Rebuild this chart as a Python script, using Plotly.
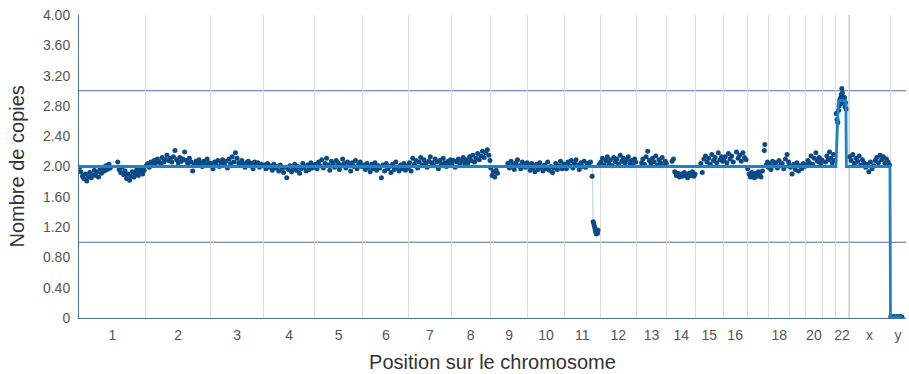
import plotly.graph_objects as go

# ---------------- chromosome layout (Mb) ----------------
chrom_names = ["1", "2", "3", "4", "5", "6", "7", "8", "9", "10", "11", "12",
               "13", "14", "15", "16", "17", "18", "19", "20", "21", "22", "x", "y"]
chrom_len_mb = [249, 243, 198, 191, 181, 171, 159, 146, 141, 136, 135, 134,
                115, 107, 103, 90, 81, 78, 59, 63, 48, 51, 155, 59]
tick_text = ["1", "2", "3", "4", "5", "6", "7", "8", "9", "10", "11", "12",
             "13", "14", "15", "16", "", "18", "", "20", "", "22", "x", "y"]

y_tick_vals = [0, 0.4, 0.8, 1.2, 1.6, 2.0, 2.4, 2.8, 3.2, 3.6, 4.0]
y_tick_text = ["0", "0.40", "0.80", "1.20", "1.60", "2.00", "2.40", "2.80", "3.20", "3.60", "4.00"]
ref_levels = [1, 3]

# ---------------- probe points: offset in chromosome (Mb) and copy number ----------------
c1_pos = [2, 7, 13, 18, 24, 29, 35, 40, 46, 51, 57, 62, 68, 73, 79, 84, 90, 95, 101, 106,
          112, 117, 145, 150, 156, 161, 167, 172, 178, 183, 189, 194, 200, 205, 211, 216, 222, 227, 233, 238, 244]
c1_val = [1.99, 1.93, 1.87, 1.84, 1.90, 1.81, 1.86, 1.92, 1.85, 1.89, 1.95, 1.88, 1.93, 1.86, 1.97, 1.91, 1.99, 1.94, 2.01, 1.96,
          2.03, 1.98, 2.06, 1.96, 1.92, 1.99, 1.89, 1.94, 1.84, 1.90, 1.82, 1.87, 1.93, 1.86, 1.91, 1.96, 1.88, 1.93, 1.97, 1.90, 1.95]
c2_pos = [2, 8, 14, 20, 26, 32, 38, 44, 50, 56, 62, 68, 74, 80, 86, 92, 98, 104, 110, 116,
          122, 128, 134, 140, 146, 152, 158, 164, 170, 176, 182, 188, 194, 200, 206, 212, 218, 224, 230, 236, 241]
c2_val = [2.01, 2.04, 1.99, 2.06, 2.03, 2.08, 2.05, 2.10, 2.07, 2.04, 2.12, 2.06, 2.09, 2.15, 2.08, 2.11, 2.06, 2.13, 2.21, 2.09,
          2.05, 2.12, 2.07, 2.10, 2.19, 2.08, 2.04, 2.11, 2.06, 1.94, 2.02, 2.07, 2.03, 2.09, 2.05, 2.00, 2.07, 2.03, 2.10, 2.05, 2.02]
c3_pos = [3, 9, 15, 21, 27, 33, 39, 45, 51, 57, 63, 69, 75, 81, 87, 93, 99, 105, 111, 117,
          123, 129, 135, 141, 147, 153, 159, 165, 171, 177, 183, 189, 195]
c3_val = [2.04, 1.97, 2.06, 2.02, 2.08, 2.00, 2.05, 2.09, 2.03, 2.07, 1.98, 2.10, 2.04, 2.13, 2.06, 2.18, 2.11, 2.05, 2.02, 2.08,
          2.03, 1.99, 2.05, 2.07, 2.01, 2.04, 1.97, 2.06, 2.02, 2.05, 1.99, 2.03, 2.01]
c4_pos = [3, 9, 15, 21, 27, 33, 39, 45, 51, 57, 63, 69, 75, 81, 87, 93, 99, 105, 111, 117,
          123, 129, 135, 141, 147, 153, 159, 165, 171, 177, 183, 189]
c4_val = [2.02, 1.97, 2.04, 1.99, 2.01, 1.95, 2.03, 1.98, 2.00, 1.94, 2.02, 1.97, 1.92, 1.99, 1.85, 1.96, 2.01, 1.93, 1.98, 2.03,
          1.95, 2.00, 1.91, 1.97, 2.04, 1.99, 1.94, 2.02, 1.96, 2.05, 1.98, 2.01]
c5_pos = [3, 9, 15, 21, 27, 33, 39, 45, 51, 57, 63, 69, 75, 81, 87, 93, 99, 105, 111, 117,
          123, 129, 135, 141, 147, 153, 159, 165, 171, 177]
c5_val = [2.03, 1.97, 2.06, 2.01, 2.09, 1.98, 2.04, 2.11, 2.02, 1.95, 2.07, 2.03, 1.99, 2.08, 2.05, 1.96, 2.02, 2.10, 2.04, 1.98,
          2.06, 2.01, 1.94, 2.05, 2.00, 2.08, 1.97, 2.03, 2.06, 2.00]
c6_pos = [3, 9, 15, 21, 27, 33, 39, 45, 51, 57, 63, 69, 75, 81, 87, 93, 99, 105, 111, 117,
          123, 129, 135, 141, 147, 153, 159, 165, 169]
c6_val = [2.02, 1.96, 2.04, 1.99, 1.93, 2.03, 1.97, 2.05, 1.95, 2.01, 1.98, 1.85, 2.02, 1.94, 2.04, 1.97, 2.00, 1.92, 2.03, 1.96,
          2.06, 1.99, 1.94, 2.02, 1.97, 2.04, 1.95, 2.01, 1.98]
c7_pos = [3, 9, 15, 21, 27, 33, 39, 45, 51, 57, 63, 69, 75, 81, 87, 93, 99, 105, 111, 117,
          123, 129, 135, 141, 147, 153, 157]
c7_val = [2.05, 1.94, 2.11, 2.03, 2.08, 1.98, 2.06, 2.12, 2.02, 2.09, 2.04, 1.99, 2.07, 2.13, 2.05, 2.01, 2.10, 2.06, 1.97, 2.08,
          2.03, 2.11, 2.05, 2.00, 2.07, 2.04, 2.09]
c8_pos = [3, 9, 15, 21, 27, 33, 39, 45, 51, 57, 63, 69, 75, 81, 87, 93, 99, 105, 111, 117,
          123, 129, 135, 141, 145]
c8_val = [2.03, 2.08, 1.99, 2.06, 2.10, 2.02, 2.07, 2.12, 2.04, 2.09, 2.05, 2.13, 2.08, 2.15, 2.06, 2.11, 2.17, 2.09, 2.14, 2.20,
          2.12, 2.18, 2.22, 2.15, 2.08]
c9_pos = [2, 7, 12, 17, 22, 27, 66, 72, 78, 84, 90, 96, 102, 108, 114, 120, 126, 132, 138]
c9_val = [1.98, 1.88, 1.93, 1.86, 1.95, 1.91, 2.04, 1.98, 2.07, 2.02, 1.96, 2.05, 2.09, 2.01, 1.97, 2.06, 2.03, 1.99, 2.05]
c10_pos = [2, 8, 14, 20, 26, 32, 38, 44, 50, 56, 62, 68, 74, 80, 86, 92, 98, 104, 110, 116, 122, 128, 134]
c10_val = [2.01, 1.95, 2.04, 1.98, 1.93, 2.03, 1.96, 2.05, 1.99, 1.94, 2.02, 1.97, 2.06, 1.95, 2.00, 1.92, 1.98, 2.04, 1.96, 2.01,
           2.07, 1.97, 2.03]
c11_pos = [2, 8, 14, 20, 26, 32, 38, 44, 50, 56, 62, 68, 74, 80, 86, 92, 98, 104, 108, 110,
           112, 114, 116, 118, 120, 122, 124, 126, 131]
c11_val = [2.03, 1.97, 2.06, 2.01, 2.08, 1.98, 2.04, 2.09, 2.02, 1.96, 2.05, 2.00, 2.07, 1.99, 2.04, 2.02, 2.06, 1.87, 1.27, 1.25,
           1.22, 1.19, 1.16, 1.13, 1.11, 1.14, 1.12, 1.16, 2.03]
c12_pos = [2, 8, 14, 20, 26, 32, 38, 44, 50, 56, 62, 68, 74, 80, 86, 92, 98, 104, 110, 116, 122, 128, 132]
c12_val = [2.06, 2.11, 2.02, 2.08, 2.13, 2.04, 2.09, 2.01, 2.12, 2.06, 2.10, 2.03, 2.15, 2.07, 2.11, 2.05, 2.09, 2.13, 2.04, 2.08,
           2.02, 2.10, 2.06]
c13_pos = [20, 25, 31, 37, 43, 49, 55, 61, 67, 73, 79, 85, 91, 97, 103, 109, 113]
c13_val = [2.05, 2.10, 2.03, 2.13, 2.20, 2.08, 2.04, 2.11, 2.06, 2.14, 2.02, 2.09, 2.05, 2.12, 2.01, 2.07, 2.04]
c14_pos = [19, 24, 29, 35, 41, 47, 53, 59, 65, 71, 77, 83, 89, 95, 101, 105]
c14_val = [2.07, 2.10, 1.93, 1.88, 1.91, 1.86, 1.90, 1.87, 1.92, 1.89, 1.85, 1.91, 1.88, 1.93, 1.87, 1.90]
c15_pos = [20, 25, 31, 37, 43, 49, 55, 61, 67, 73, 79, 85, 91, 97, 101]
c15_val = [2.04, 1.92, 2.10, 2.14, 2.06, 2.11, 2.03, 2.16, 2.08, 2.12, 2.05, 2.18, 2.09, 2.13, 2.07]
c16_pos = [2, 8, 14, 20, 26, 32, 38, 50, 56, 62, 68, 74, 80, 86]
c16_val = [2.08, 2.13, 2.05, 2.17, 2.10, 2.14, 2.06, 2.19, 2.11, 2.15, 2.07, 2.18, 2.12, 2.09]
c17_pos = [2, 7, 12, 17, 22, 27, 32, 37, 42, 47, 52, 57, 64, 66, 71, 76, 79]
c17_val = [1.97, 1.90, 1.86, 1.92, 1.88, 1.85, 1.91, 1.87, 1.93, 1.89, 1.86, 1.94, 2.21, 2.29, 2.02, 2.06, 1.99]
c18_pos = [2, 8, 14, 20, 26, 32, 38, 44, 50, 56, 62, 68, 74, 77]
c18_val = [2.03, 1.96, 2.07, 2.01, 2.05, 1.98, 2.08, 2.02, 2.04, 1.97, 2.10, 2.16, 2.06, 2.01]
c19_pos = [3, 9, 15, 21, 27, 33, 39, 45, 51, 56]
c19_val = [1.99, 1.90, 2.03, 1.96, 2.05, 1.94, 2.01, 1.97, 2.04, 2.00]
c20_pos = [3, 9, 15, 21, 27, 33, 39, 45, 51, 57, 61]
c20_val = [2.02, 2.08, 2.05, 2.14, 2.03, 2.11, 2.18, 2.07, 2.12, 2.04, 2.09]
c21_pos = [12, 17, 22, 27, 32, 37, 42, 46]
c21_val = [2.06, 2.14, 2.09, 2.19, 2.11, 2.05, 2.16, 2.08]
c22_pos = [4, 7, 10, 13, 15, 17, 19, 21, 23, 25, 27, 29, 31, 33, 35, 37, 39, 41]
c22_val = [2.70, 2.62, 2.58, 2.74, 2.80, 2.86, 2.90, 2.83, 2.95, 3.03, 2.97, 2.92, 2.88, 2.85, 2.91, 2.79, 2.84, 2.76]
cX_pos = [3, 9, 15, 21, 27, 33, 39, 45, 51, 57, 63, 69, 75, 81, 87, 93, 99, 105, 111, 117,
          123, 129, 135, 141, 147, 152]
cX_val = [2.13, 2.08, 2.16, 2.04, 2.11, 2.07, 2.14, 2.02, 2.09, 2.05, 1.99, 2.03, 1.93, 2.06, 1.97, 2.01, 2.08, 2.12, 2.05, 2.15,
          2.09, 2.13, 2.04, 2.10, 2.06, 2.02]
cY_pos = [2, 8, 14, 20, 26, 32, 38, 44]
cY_val = [0.02, 0.01, 0.02, 0.01, 0.02, 0.01, 0.02, 0.01]

# ---------------- segmentation line: (chromosome index, offset Mb, level) ----------------
seg_chrom = [0, 21, 21, 21, 21, 22, 23, 23]
seg_offset = [0, 3, 12, 40, 42, 154, 1, 45]
seg_level = [2.0, 2.0, 2.87, 2.87, 2.0, 2.0, 0.01, 0.01]

# faint connector down to the chromosome 11 loss
link_chrom = [10, 10]
link_offset = [106, 107.5]
link_level = [1.98, 1.26]

# ---------------- build ----------------
starts = []
acc = 0
for L in chrom_len_mb:
    starts.append(acc)
    acc += L
total_mb = acc
centers = [s + L / 2 for s, L in zip(starts, chrom_len_mb)]
boundaries = starts[1:]

all_pos = [c1_pos, c2_pos, c3_pos, c4_pos, c5_pos, c6_pos, c7_pos, c8_pos, c9_pos, c10_pos, c11_pos, c12_pos,
           c13_pos, c14_pos, c15_pos, c16_pos, c17_pos, c18_pos, c19_pos, c20_pos, c21_pos, c22_pos, cX_pos, cY_pos]
all_val = [c1_val, c2_val, c3_val, c4_val, c5_val, c6_val, c7_val, c8_val, c9_val, c10_val, c11_val, c12_val,
           c13_val, c14_val, c15_val, c16_val, c17_val, c18_val, c19_val, c20_val, c21_val, c22_val, cX_val, cY_val]
dot_x, dot_y = [], []
for i, (p, v) in enumerate(zip(all_pos, all_val)):
    for a, b in zip(p, v):
        dot_x.append(starts[i] + a)
        dot_y.append(b)

seg_x = [starts[c] + o for c, o in zip(seg_chrom, seg_offset)]
link_x = [starts[c] + o for c, o in zip(link_chrom, link_offset)]

AXIS = "#4f6fa3"
GRID = "#dcdcdc"
DOT = "#0b4a85"
LINE = "#1f82c4"
FONT = "Liberation Sans, Arial, sans-serif"

fig = go.Figure()
fig.add_trace(go.Scatter(x=link_x, y=link_level, mode="lines",
                         line=dict(color="#b9c9dc", width=1), hoverinfo="skip"))
fig.add_trace(go.Scatter(x=dot_x, y=dot_y, mode="markers",
                         marker=dict(color=DOT, size=5, line=dict(width=0)), hoverinfo="skip"))
fig.add_trace(go.Scatter(x=seg_x, y=seg_level, mode="lines",
                         line=dict(color=LINE, width=2.8), hoverinfo="skip"))

for lv in ref_levels:
    fig.add_hline(y=lv, line_color=AXIS, line_width=1, layer="below")
fig.add_vline(x=starts[22], line_color=AXIS, line_width=1, layer="below")

# y-axis title as a rotated annotation (axis-title standoff is ignored without automargin)
fig.add_annotation(text="Nombre de copies", xref="paper", yref="paper",
                   x=-0.075, y=0.5, xanchor="center", yanchor="middle",
                   textangle=-90, showarrow=False,
                   font=dict(size=20, color="#333333", family=FONT))

fig.update_layout(
    width=909, height=374,
    margin=dict(l=79, r=3, t=15, b=56),
    plot_bgcolor="white", paper_bgcolor="white",
    showlegend=False,
    font=dict(family=FONT, color="#555555"),
    xaxis=dict(
        range=[0, total_mb], showline=True, linecolor=AXIS, linewidth=1,
        tickmode="array", tickvals=centers, ticktext=tick_text,
        showgrid=False, zeroline=False,
        ticks="outside", ticklen=4, tickcolor="rgba(0,0,0,0)",
        tickfont=dict(size=14, color="#555555"),
        minor=dict(tickmode="array", tickvals=boundaries, showgrid=True,
                   gridcolor=GRID, gridwidth=1, ticks=""),
        title=dict(text="Position sur le chromosome", font=dict(size=20, color="#333333"), standoff=13),
        automargin=False,
    ),
    yaxis=dict(
        range=[0, 4], showline=True, linecolor=AXIS, linewidth=1,
        tickmode="array", tickvals=y_tick_vals, ticktext=y_tick_text,
        showgrid=False, zeroline=False,
        ticks="outside", ticklen=5, tickcolor="rgba(0,0,0,0)",
        tickfont=dict(size=14, color="#555555"),
        automargin=False,
    ),
)

# remove the browser's default 8 px body margin so the figure sits at the page origin
fig.write_html("out.html", config={"displayModeBar": False},
               post_script="document.body.style.margin='0';")
